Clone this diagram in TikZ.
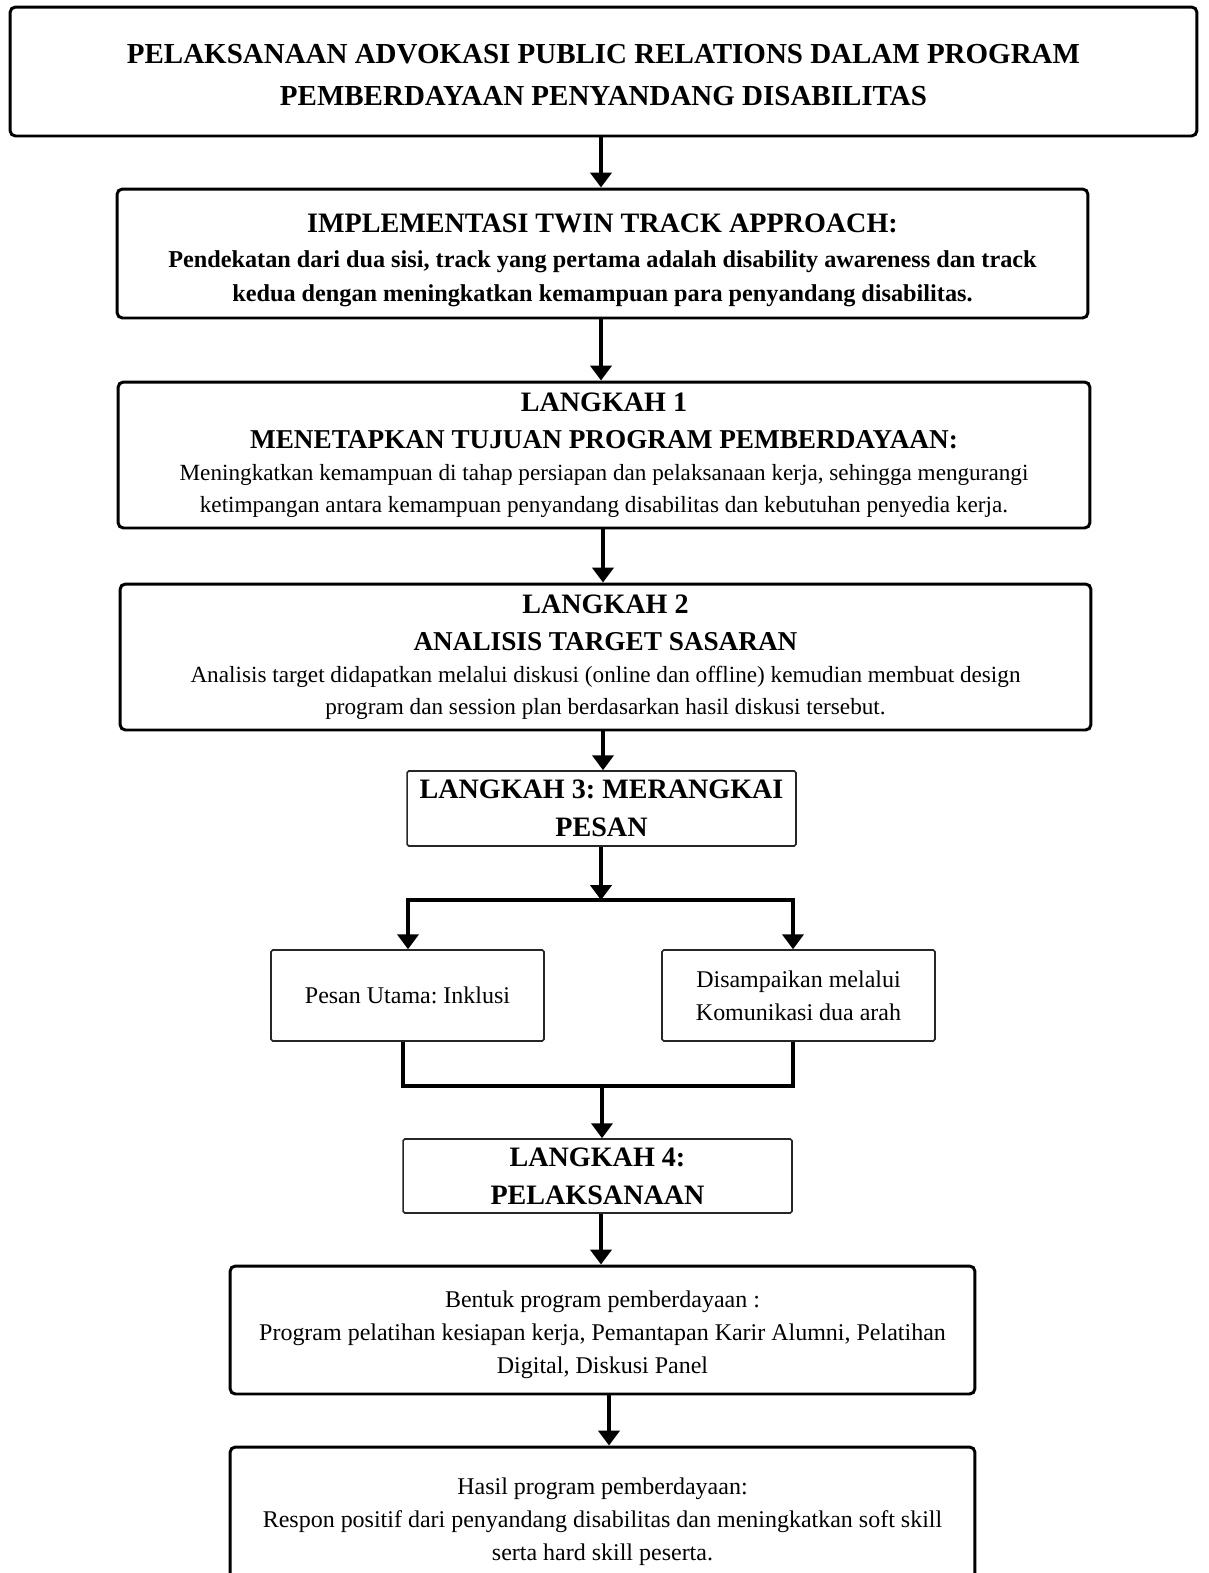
\documentclass[tikz,border=0pt]{standalone}
\usepackage{fontspec}
\setmainfont{Liberation Serif}
\frenchspacing
\usetikzlibrary{arrows.meta,calc}

\begin{document}
\begin{tikzpicture}[x=0.02cm,y=-0.02cm,
        box/.style={draw,line width=1.7pt,rounded corners=3pt,align=center,inner sep=0pt},
        plainbox/.style={draw=black!85,line width=0.9pt,rounded corners=1pt,align=center,inner sep=0pt},
        arr/.style={line width=2.3pt,-{Triangle[length=8.5pt,width=12pt]}},
        ln/.style={line width=2.3pt},
        big/.style={font=\fontsize{16.5}{23.8}\selectfont\bfseries},
        head/.style={font=\fontsize{16}{21.6}\selectfont\bfseries},
        mid/.style={font=\fontsize{13.2}{18.3}\selectfont},
        body/.style={font=\fontsize{13.65}{18.7}\selectfont},
        midb/.style={font=\fontsize{13.8}{19.2}\selectfont\bfseries}]
            \useasboundingbox (0,0) rectangle (1209,1573);
            \node[box,big,minimum width=23.74cm,minimum height=2.58cm] (title) at (603.5,71.5)
                {\rule{0pt}{14.5pt}PELAKSANAAN ADVOKASI PUBLIC RELATIONS DALAM PROGRAM\\PEMBERDAYAAN PENYANDANG DISABILITAS};
            \node[box,midb,minimum width=19.42cm,minimum height=2.58cm] (twin) at (602.5,253.5)
                {{\fontsize{16}{20.5}\selectfont\rule{0pt}{18pt}IMPLEMENTASI TWIN TRACK APPROACH:}\\[1pt]
                Pendekatan dari dua sisi, track yang pertama adalah disability awareness dan track\\
                kedua dengan meningkatkan kemampuan para penyandang disabilitas.};
            \node[box,mid,minimum width=19.44cm,minimum height=2.92cm] (step1) at (604,455)
                {{\fontsize{16}{21.6}\selectfont\bfseries LANGKAH 1}\\[2.8pt]
                {\fontsize{15.5}{19}\selectfont\bfseries MENETAPKAN TUJUAN PROGRAM PEMBERDAYAAN:}\\
                Meningkatkan kemampuan di tahap persiapan dan pelaksanaan kerja, sehingga mengurangi\\
                ketimpangan antara kemampuan penyandang disabilitas dan kebutuhan penyedia kerja.};
            \node[box,mid,minimum width=19.42cm,minimum height=2.92cm] (step2) at (605.5,657)
                {{\fontsize{16}{21.6}\selectfont\bfseries LANGKAH 2}\\[2.8pt]
                {\fontsize{15.5}{19}\selectfont\bfseries ANALISIS TARGET SASARAN}\\
                Analisis target didapatkan melalui diskusi (online dan offline) kemudian membuat design\\
                program dan session plan berdasarkan hasil diskusi tersebut.};
            \node[plainbox,head,minimum width=7.78cm,minimum height=1.5cm] (step3) at (601.5,808.5)
                {LANGKAH 3: MERANGKAI\\PESAN};
            \node[plainbox,body,minimum width=5.46cm,minimum height=1.82cm] (msgA) at (407.5,995.5)
                {Pesan Utama: Inklusi};
            \node[plainbox,body,font=\fontsize{13.65}{18.8}\selectfont,minimum width=5.46cm,minimum height=1.82cm] (msgB) at (798.5,995.5)
                {Disampaikan melalui\\Komunikasi dua arah};
            \node[plainbox,head,minimum width=7.78cm,minimum height=1.48cm] (step4) at (597.5,1176)
                {LANGKAH 4:\\PELAKSANAAN};
            \node[box,body,minimum width=14.9cm,minimum height=2.56cm] (form) at (602.5,1330)
                {\rule{0pt}{15pt}Bentuk program pemberdayaan :\\
                Program pelatihan kesiapan kerja, Pemantapan Karir Alumni, Pelatihan\\
                Digital, Diskusi Panel};
            \node[box,body,minimum width=14.9cm,minimum height=3cm] (result) at (602.5,1522)
                {Hasil program pemberdayaan:\\
                Respon positif dari penyandang disabilitas dan meningkatkan soft skill\\
                serta hard skill peserta.};

            \coordinate (splitL) at (408,900);
            \coordinate (split) at (601,900);
            \coordinate (splitR) at (793,900);
            \coordinate (joinL) at (403,1086);
            \coordinate (join) at (602,1086);
            \coordinate (joinR) at (793,1086);

            \draw[arr] (601,0 |- title.south) -- (601,0 |- twin.north);
            \draw[arr] (601,0 |- twin.south) -- (601,0 |- step1.north);
            \draw[arr] (603,0 |- step1.south) -- (603,0 |- step2.north);
            \draw[arr] (603,0 |- step2.south) -- (603,0 |- step3.north);
            \draw[arr] (split |- step3.south) -- (split);
            \draw[ln,line cap=rect] (splitL) -- (splitR);
            \draw[arr] (splitL) -- (splitL |- msgA.north);
            \draw[arr] (splitR) -- (splitR |- msgB.north);
            \draw[ln] (joinL |- msgA.south) -- (joinL) -- (joinR) -- (joinR |- msgB.south);
            \draw[arr] (join) -- (join |- step4.north);
            \draw[arr] (601,0 |- step4.south) -- (601,0 |- form.north);
            \draw[arr] (609,0 |- form.south) -- (609,0 |- result.north);
        \end{tikzpicture}
\end{document}
